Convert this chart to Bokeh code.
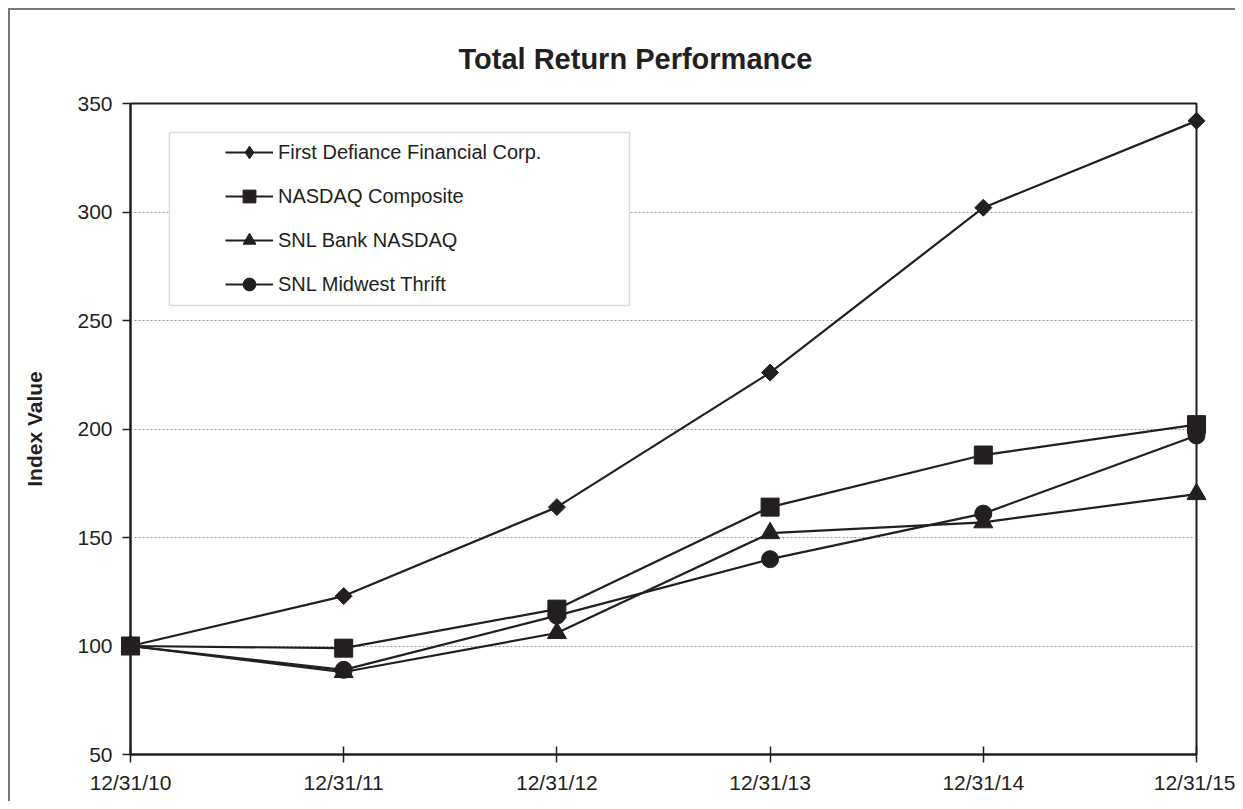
from bokeh.plotting import figure
from bokeh.models import Legend, LegendItem, FixedTicker, BoxAnnotation
from bokeh.embed import file_html
from bokeh.resources import INLINE
import math

# ---- data ----
dates = ["12/31/10", "12/31/11", "12/31/12", "12/31/13", "12/31/14", "12/31/15"]
first_defiance = [100, 123, 164, 226, 302, 342]
nasdaq_composite = [100, 99, 117, 164, 188, 202]
snl_bank_nasdaq = [100, 88, 106, 152, 157, 170]
snl_midwest_thrift = [100, 89, 114, 140, 161, 197]
y_ticks = [50, 100, 150, 200, 250, 300, 350]

series_names = ["First Defiance Financial Corp.", "NASDAQ Composite",
                "SNL Bank NASDAQ", "SNL Midwest Thrift"]
series_values = [first_defiance, nasdaq_composite, snl_bank_nasdaq, snl_midwest_thrift]

INK = "#231f20"
FONT = "Liberation Sans"

x = list(range(len(dates)))

p = figure(width=1227, height=793, output_backend="svg", toolbar_location=None,
           x_range=(0, len(dates) - 1), y_range=(y_ticks[0], y_ticks[-1]),
           min_border_left=120, min_border_right=41, min_border_top=93, min_border_bottom=49,
           background_fill_color="white", border_fill_color="white",
           styles={"border-left": "2px solid #777", "border-top": "2px solid #777",
                   "margin-left": "8px", "margin-top": "8px"})

p.outline_line_color = INK
p.outline_line_width = 2

# title
p.title.text = "Total Return Performance"
p.title.align = "left"
p.title.offset = 328
p.title.text_font = FONT
p.title.text_font_size = "29px"
p.title.text_font_style = "bold"
p.title.text_color = INK
p.title.standoff = 57

# axes
p.xaxis.ticker = FixedTicker(ticks=x)
p.xaxis.major_label_overrides = {i: d for i, d in enumerate(dates)}
p.yaxis.ticker = FixedTicker(ticks=y_ticks)
for ax in (p.xaxis[0], p.yaxis[0]):
    ax.axis_line_color = INK
    ax.axis_line_width = 2
    ax.major_tick_line_color = INK
    ax.major_tick_line_width = 1.5
    ax.minor_tick_line_color = None
    ax.major_label_text_font = FONT
    ax.major_label_text_font_size = "21px"
    ax.major_label_text_color = INK
p.xaxis.major_tick_in = 8
p.xaxis.major_tick_out = 8
p.xaxis.major_label_standoff = 8
p.yaxis.major_tick_in = 0
p.yaxis.major_tick_out = 8
p.yaxis.major_label_standoff = 10
p.yaxis.axis_label = "Index Value"
p.yaxis.axis_label_text_font = FONT
p.yaxis.axis_label_text_font_size = "21px"
p.yaxis.axis_label_text_font_style = "bold"
p.yaxis.axis_label_text_color = INK
p.yaxis.axis_label_standoff = 28

p.xgrid.visible = False
p.ygrid.grid_line_color = "#9a9a9a"
p.ygrid.grid_line_dash = "2 2"
p.ygrid.grid_line_width = 1

markers = [("square", 12, math.pi / 4), ("square", 18, 0.0),
           ("triangle", 19, 0.0), ("circle", 17, 0.0)]
legend_markers = ["diamond", "square", "triangle", "circle"]

items = []
for name, vals, (mk, sz, ang), lmk in zip(series_names, series_values, markers, legend_markers):
    lr = p.line(x, vals, line_color=INK, line_width=2.2)
    sr = p.scatter(x, vals, marker=mk, size=sz, angle=ang,
                   fill_color=INK, line_color=INK, level="overlay")
    if lmk != mk or ang != 0.0:
        # legend-only glyph (no data drawn)
        sr = p.scatter([float("nan")], [float("nan")], marker=lmk, size=sz,
                       fill_color=INK, line_color=INK)
    items.append(LegendItem(label=name, renderers=[lr, sr]))

box = BoxAnnotation(left=157, right=617, top=120, bottom=293,
                    left_units="canvas", right_units="canvas",
                    top_units="canvas", bottom_units="canvas",
                    fill_color="white", fill_alpha=1.0,
                    line_color="#8a8a8a", line_width=1.5)
p.add_layout(box)

legend = Legend(items=items, location=(95, 454), orientation="vertical",
                border_line_alpha=0, background_fill_alpha=0,
                padding=0, margin=0, spacing=12,
                glyph_width=48, glyph_height=32, label_height=32,
                label_standoff=5, label_text_font=FONT,
                label_text_font_size="20px", label_text_color=INK)
p.add_layout(legend)

open("out.html", "w").write(file_html(p, INLINE))
